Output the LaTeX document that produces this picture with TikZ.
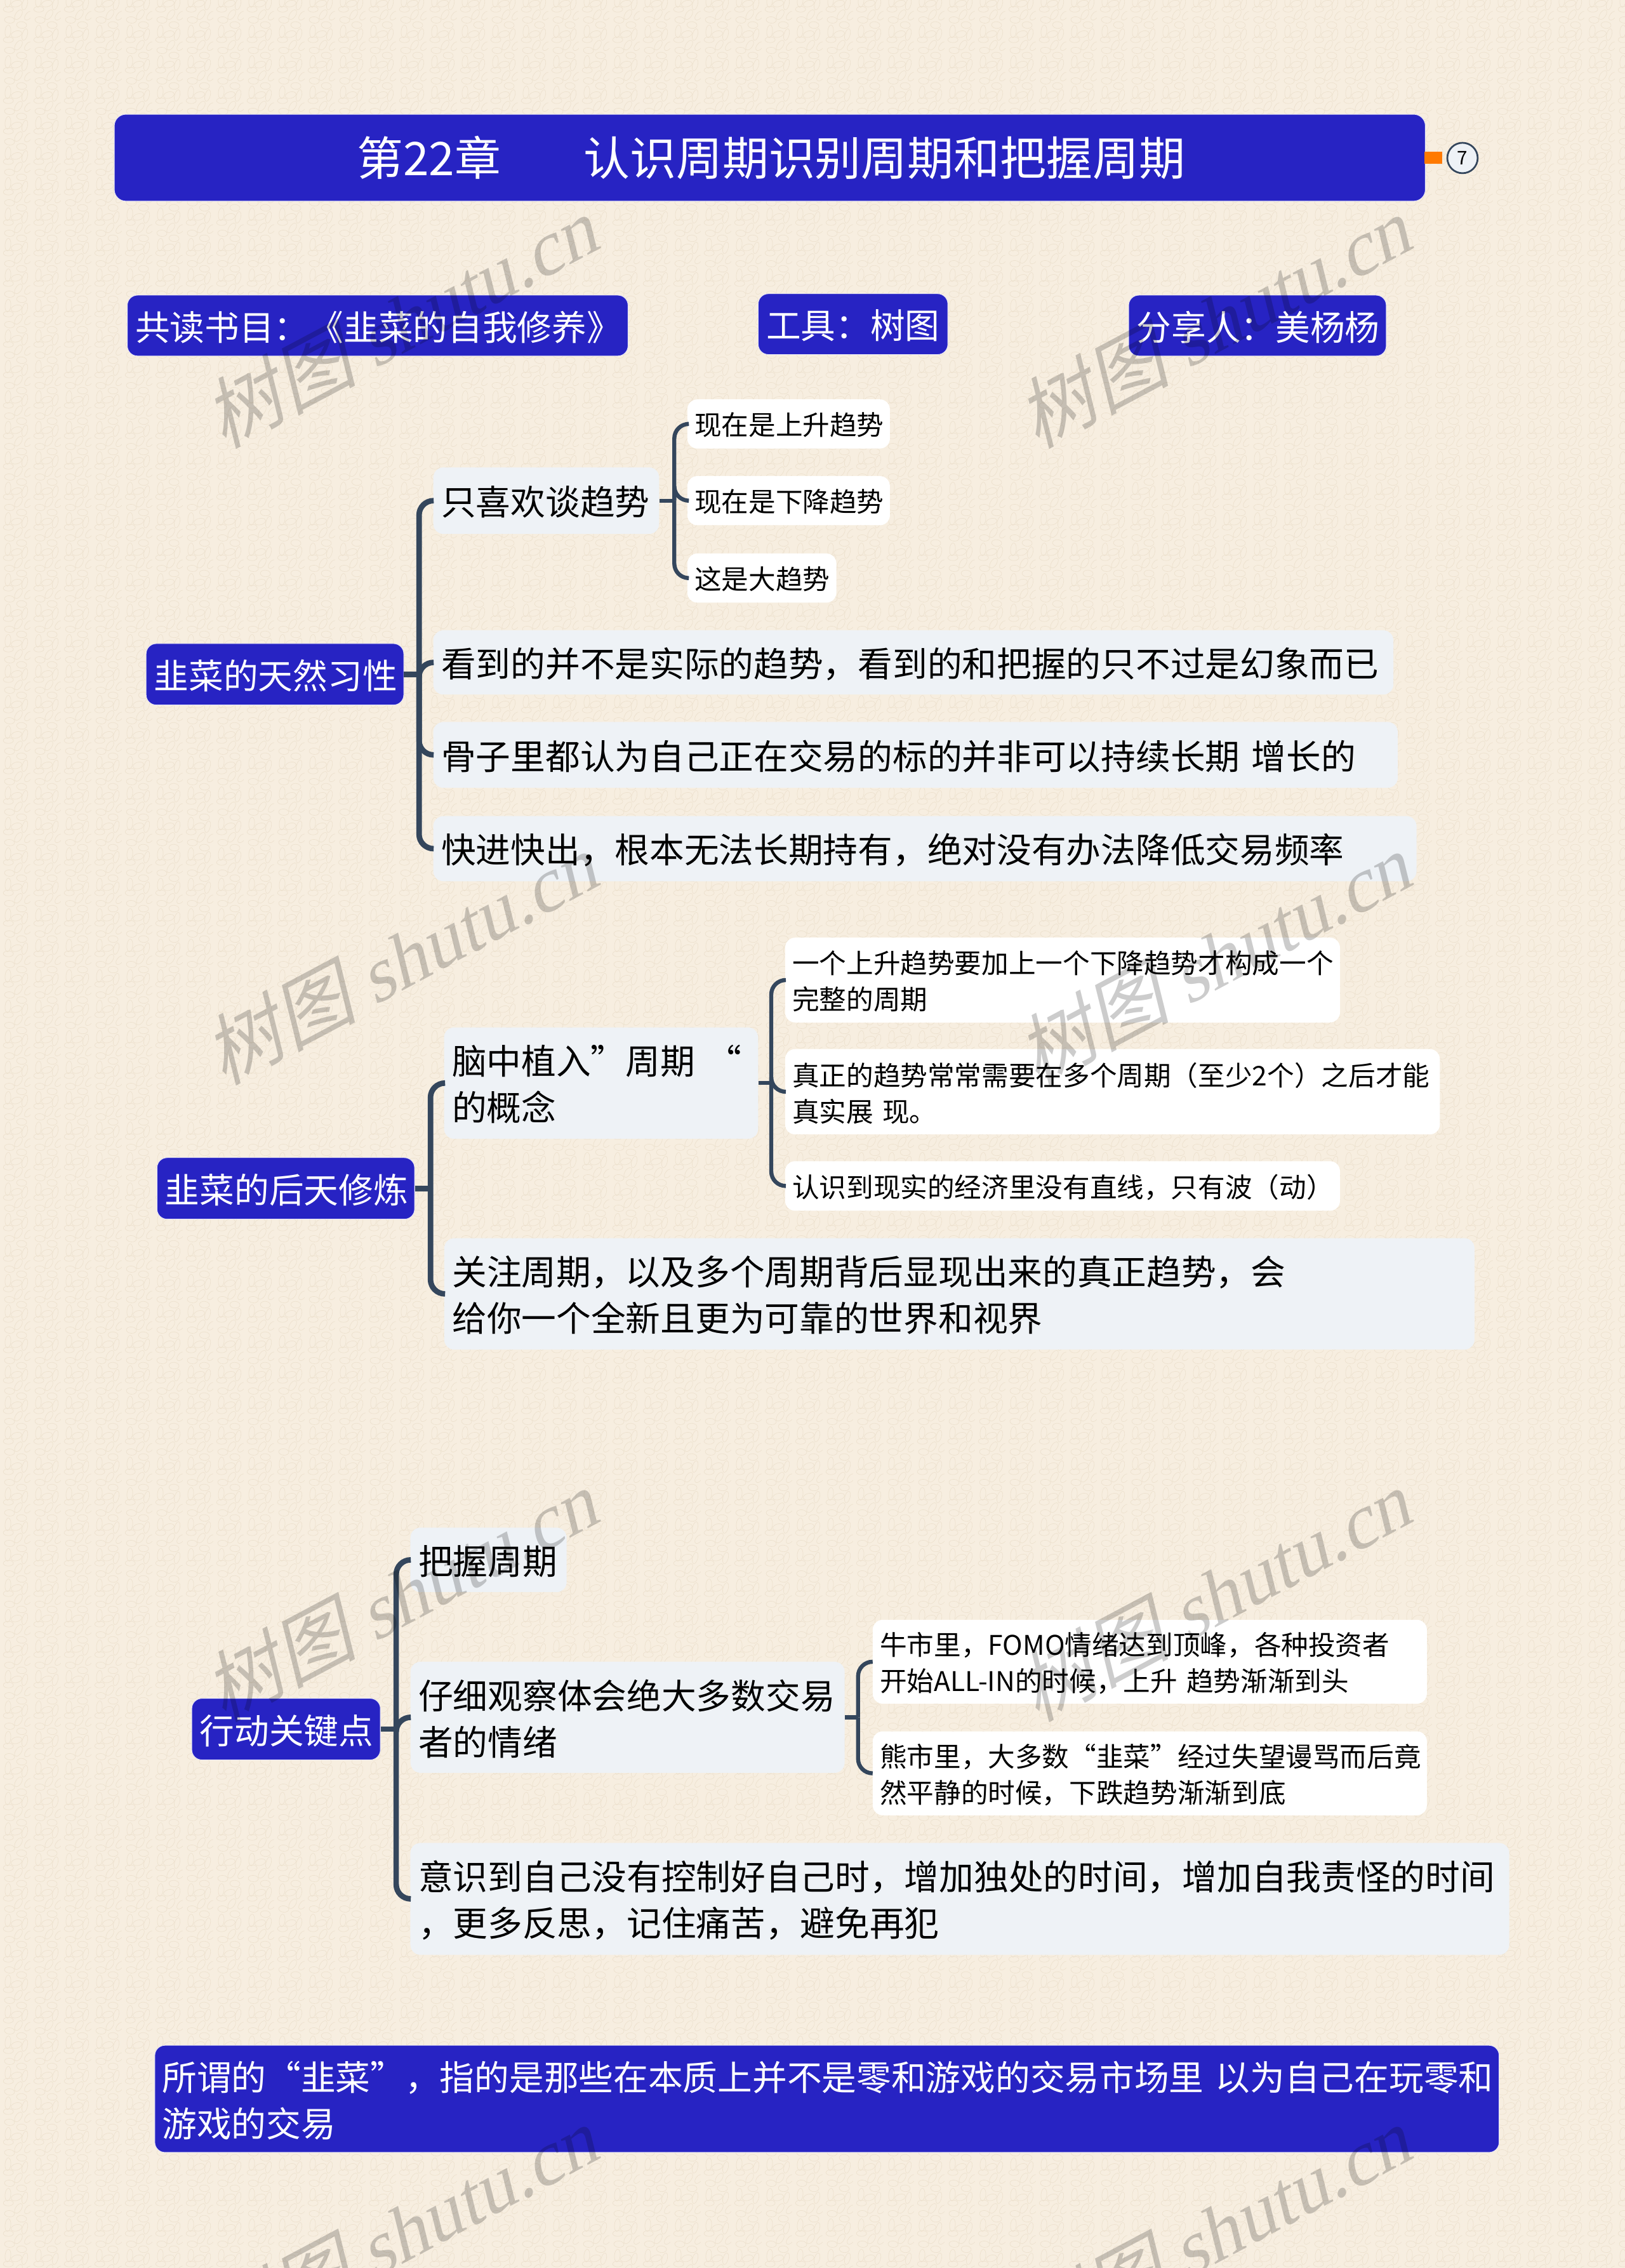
\documentclass[tikz,border=0pt]{standalone}
\usepackage{fontspec}
\usetikzlibrary{patterns}
\setmainfont{Noto Sans CJK SC}
\newfontfamily\markcjk[FakeSlant=0.25]{Noto Sans CJK SC}
\newfontfamily\marklatin[FakeSlant=0.25]{Liberation Serif}
\definecolor{paper}{HTML}{F7EEE0}
\definecolor{husk}{HTML}{EDE1CE}
\definecolor{royal}{HTML}{2723C3}
\definecolor{slate}{HTML}{34465C}
\definecolor{mist}{HTML}{EEF2F6}
\definecolor{tangerine}{HTML}{FF7A00}
\newcommand\beanpath[5]{\pgfpathellipse{\pgfpoint{#1pt+\ox pt}{#2pt+\oy pt}}{\pgfpointpolar{#5}{#3pt}}{\pgfpointpolar{#5+90}{#4pt}}}
\pgfdeclarepatternformonly{beans}{\pgfqpoint{0pt}{0pt}}{\pgfqpoint{21pt}{21pt}}{\pgfqpoint{21pt}{21pt}}{
  \pgfsetlinewidth{.3pt}
  \foreach \ox in {0,21}
  \foreach \oy in {0,21}{
    \beanpath{5.5}{8.6}{4.4}{2}{85}
    \beanpath{11.4}{6.7}{3.8}{2.2}{15}
    \beanpath{17.2}{6.4}{4.1}{1.8}{75}
    \beanpath{5.8}{2.8}{3.5}{2}{0}
    \beanpath{12.8}{-.9}{3.8}{2}{55}
    \beanpath{19.7}{-1.6}{3.5}{2}{50}
    \beanpath{6.6}{-4.5}{3.5}{2.2}{-5}
    \beanpath{15}{13}{3.5}{2.3}{-5}
  }
  \pgfusepath{stroke}
}
\tikzset{
  sized/.style 2 args={text width=#1pt-2*\pgfkeysvalueof{/pgf/inner xsep}, minimum height=#2pt},
  block/.style={rounded corners=7pt, inner xsep=5.5pt, inner ysep=0pt, align=left, execute at end node={\par\kern-2pt}},
  headbox/.style={block, fill=royal, draw=royal!12, line width=.4pt, text=white, font=\fontsize{24}{32}\selectfont},
  topicbox/.style={block, fill=mist, text=black, font=\fontsize{24}{32}\selectfont},
  leafbox/.style={block, inner xsep=5pt, fill=white, text=black, font=\fontsize{18.7}{25}\selectfont},
  trunk/.style={draw=slate, line width=3.8pt, rounded corners=10pt},
  twig/.style={draw=slate, line width=2.8pt, rounded corners=10pt}
}
\begin{document}
\begin{tikzpicture}[x=1pt,y=-1pt]
\useasboundingbox (0,0) rectangle (1123,1567.4);
\fill[paper] (0,0) rectangle (1123,1567.4);
\fill[pattern=beans,pattern color=husk] (0,0) rectangle (1123,1567.4);

\node[headbox,minimum width=906pt,minimum height=60pt,align=center,font=\fontsize{32}{40}\selectfont,rounded corners=8pt,execute at end node={}] (title) at (532,109) {第22章\hspace{57pt}认识周期识别周期和把握周期};
\node[fill=tangerine,minimum width=12pt,minimum height=8pt,inner sep=0pt] (fold) at (990.5,109) {};
\node[circle,draw=slate,fill=mist,line width=1.2pt,minimum size=21pt,inner sep=0pt,font=\fontsize{13}{13}\selectfont] (badge) at (1010.7,109.2) {7};

\node[headbox,sized={346}{42}] (book) at (261,225) {共读书目：《韭菜的自我修养》};
\node[headbox,sized={131}{42}] (tool) at (589.5,224) {工具：树图};
\node[headbox,sized={178}{42}] (host) at (869,225) {分享人：美杨杨};

\node[headbox,sized={178}{42.4}] (nature) at (190,466) {韭菜的天然习性};
\node[topicbox,sized={156}{46}] (talk) at (377.5,346) {只喜欢谈趋势};
\node[leafbox,sized={140}{34}] (rise) at (545,293) {现在是上升趋势};
\node[leafbox,sized={140}{34}] (fall) at (545,346) {现在是下降趋势};
\node[leafbox,sized={103}{34}] (bigtrend) at (526.5,399.5) {这是大趋势};
\node[topicbox,sized={663.5}{44.4}] (illusion) at (631.2,457.8) {看到的并不是实际的趋势，看到的和把握的只不过是幻象而已};
\node[topicbox,sized={666.5}{45.5}] (bones) at (632.7,521.7) {骨子里都认为自己正在交易的标的并非可以持续长期 增长的};
\node[topicbox,sized={679.5}{45}] (quick) at (639.2,586.5) {快进快出，根本无法长期持有，绝对没有办法降低交易频率};

\node[headbox,sized={178}{42.5}] (nurture) at (197.5,821.3) {韭菜的后天修炼};
\node[topicbox,sized={217}{77}] (implant) at (415.4,748.5) {脑中植入”周期 “\\的概念};
\node[leafbox,sized={383.5}{58.6}] (whole) at (734.3,677.3) {一个上升趋势要加上一个下降趋势才构成一个\\完整的周期};
\node[leafbox,sized={452.5}{59}] (several) at (768.8,754.5) {真正的趋势常常需要在多个周期（至少2个）之后才能\\真实展 现。};
\node[leafbox,sized={383.5}{34.3}] (wave) at (734.3,819.6) {认识到现实的经济里没有直线，只有波（动）};
\node[topicbox,sized={712}{77}] (focus) at (663,894.2) {关注周期，以及多个周期背后显现出来的真正趋势，会\\给你一个全新且更为可靠的世界和视界};

\node[headbox,sized={130.3}{42.5}] (action) at (197.7,1195) {行动关键点};
\node[topicbox,sized={108}{44.6}] (grasp) at (337.6,1078) {把握周期};
\node[topicbox,sized={300}{76.8}] (watch) at (433.7,1186.8) {仔细观察体会绝大多数交易\\者的情绪};
\node[leafbox,sized={383}{58}] (bull) at (794.6,1148.4) {牛市里，FOMO情绪达到顶峰，各种投资者\\开始ALL-IN的时候，上升 趋势渐渐到头};
\node[leafbox,sized={383}{58}] (bear) at (794.6,1225.5) {熊市里，大多数“韭菜”经过失望谩骂而后竟\\然平静的时候，下跌趋势渐渐到底};
\node[topicbox,sized={759.4}{77.3}] (aware) at (663.3,1312.3) {意识到自己没有控制好自己时，增加独处的时间，增加自我责怪的时间\\，更多反思，记住痛苦，避免再犯};

\node[headbox,inner xsep=5pt,text width=919pt,minimum height=74pt] (meaning) at (571.5,1450.5) {所谓的“韭菜”，指的是那些在本质上并不是零和游戏的交易市场里~以为自己在玩零和\\游戏的交易};

\coordinate (natureT) at (289.6,466);
\coordinate (talkT) at (466,346);
\coordinate (nurtureT) at (297.5,821.3);
\coordinate (implantT) at (533,748.5);
\coordinate (actionT) at (273.8,1195);
\coordinate (watchT) at (593,1186.8);

\draw[trunk] (nature.east) -- (natureT);
\foreach \c in {talk,illusion,bones,quick}
\draw[trunk] (natureT) |- (\c.west);
\draw[twig] (talk.east) -- (talkT);
\foreach \c in {rise,fall,bigtrend}
\draw[twig] (talkT) |- (\c.west);

\draw[trunk] (nurture.east) -- (nurtureT);
\foreach \c in {implant,focus}
\draw[trunk] (nurtureT) |- (\c.west);
\draw[twig] (implant.east) -- (implantT);
\foreach \c in {whole,several,wave}
\draw[twig] (implantT) |- (\c.west);

\draw[trunk] (action.east) -- (actionT);
\foreach \c in {grasp,watch,aware}
\draw[trunk] (actionT) |- (\c.west);
\draw[twig] (watch.east) -- (watchT);
\foreach \c in {bull,bear}
\draw[twig] (watchT) |- (\c.west);

\begin{scope}
\clip (0,0) rectangle (1123,1567.4);
\foreach \x in {276,838}
\foreach \y in {223,663,1103,1543}
\node[rotate=28,text=black,opacity=.2,inner sep=0pt] (mark\x\y) at (\x,\y) {\fontsize{53}{53}\markcjk 树图 \marklatin shutu.cn};
\end{scope}
\end{tikzpicture}
\end{document}
